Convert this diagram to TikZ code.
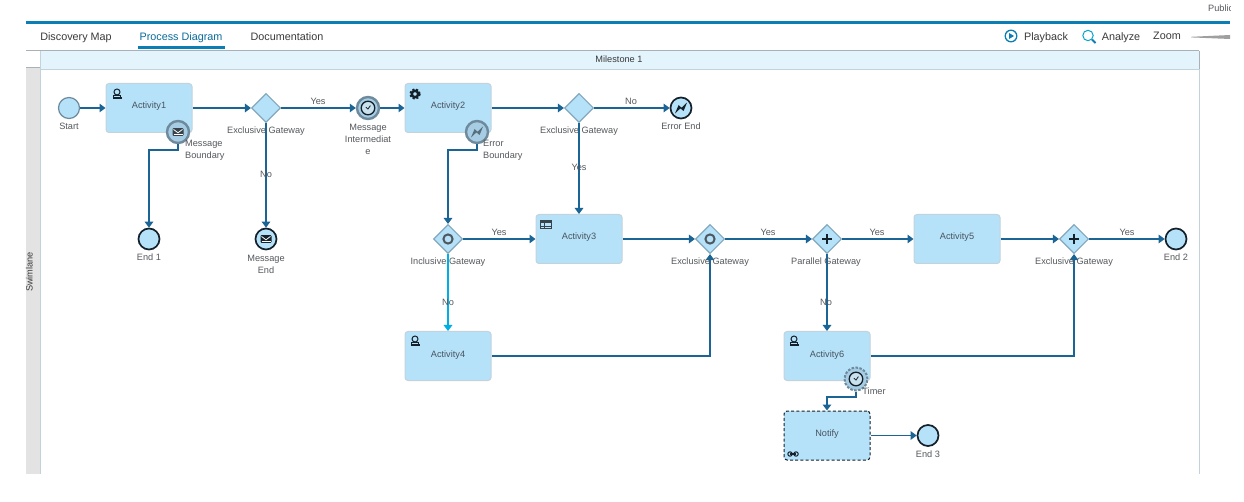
\documentclass[tikz,border=0pt]{standalone}
\usepackage{fontspec}
\setmainfont{Liberation Sans}
\usetikzlibrary{arrows.meta,shapes.geometric}
\definecolor{taskfill}{HTML}{B5E2F9}
\definecolor{taskedge}{HTML}{C3D3DC}
\definecolor{flow}{HTML}{1A6596}
\definecolor{cyanflow}{HTML}{00AEE6}
\definecolor{gwedge}{HTML}{83A7BC}
\definecolor{txt}{HTML}{55595D}
\definecolor{tasktxt}{HTML}{48545E}
\definecolor{tabtxt}{HTML}{3A3A3A}
\definecolor{brand}{HTML}{0B7FB5}
\definecolor{ring}{HTML}{6E8A9C}
\definecolor{ringfill}{HTML}{A6CDE3}
\definecolor{ink}{HTML}{14202A}
\definecolor{band}{HTML}{E3F4FC}
\definecolor{lane}{HTML}{E3E3E3}
\definecolor{rulegray}{HTML}{A9B1B6}
\newcommand{\lblfont}{\fontsize{9.2}{12}\selectfont}
\newcommand{\tabfont}{\fontsize{10.8}{13}\selectfont}
\tikzset{
  taskbox/.style={rectangle,rounded corners=3pt,draw=taskedge,line width=1pt,fill=taskfill,
    minimum width=86pt,minimum height=49pt,inner sep=0pt,text=tasktxt,font=\lblfont,
    text height=7pt,text depth=5pt},
  notifybox/.style={taskbox,draw=ink,dash pattern=on 3pt off 2.2pt,line width=1pt},
  gwbox/.style={diamond,aspect=1,draw=gwedge,line width=1.1pt,fill=taskfill,minimum width=29pt,minimum height=29pt,inner sep=0pt},
  evstart/.style={circle,draw=ring,line width=1.2pt,fill=taskfill,minimum size=21pt,inner sep=0pt},
  evend/.style={circle,draw=ink,line width=1.7pt,fill=taskfill,minimum size=21pt,inner sep=0pt},
  evinter/.style={circle,draw=ring,line width=2.4pt,fill=ringfill,minimum size=22pt,inner sep=0pt},
  evtimer/.style={circle,draw=ring,line width=2pt,dash pattern=on 2.5pt off 1.5pt,fill=ringfill,minimum size=23pt,inner sep=0pt},
  lbl/.style={text=txt,font=\lblfont,inner sep=0pt,text height=7pt,text depth=2pt},
  lblm/.style={text=txt,font=\lblfont,inner sep=0pt,align=center},
  lblleft/.style={text=txt,font=\lblfont,inner sep=0pt,align=left,anchor=west},
  tab/.style={text=tabtxt,font=\tabfont,inner sep=0pt,text height=8pt,text depth=2.5pt},
  seq/.style={draw=flow,line width=1.3pt,-{Triangle[length=6pt,width=8.5pt]}},
  seqthick/.style={seq,line width=1.9pt},
  seqcyan/.style={draw=cyanflow,line width=1.5pt,-{Triangle[length=6pt,width=8.5pt]}},
}
\newcommand{\usericon}[1]{\begin{scope}[shift={#1}]
  \draw[ink,line width=1pt] (0,-2) circle (3);
  \fill[ink] (-4.5,3) rectangle (4.5,5.2);
  \draw[ink,line width=.8pt] (-3.6,3) -- (-3.6,1.8) -- (3.6,1.8) -- (3.6,3);
\end{scope}}
\newcommand{\gearicon}[1]{\begin{scope}[shift={#1}]
  \draw[ink,line width=2.4pt] (0,0) circle (3.2);
  \draw[ink,line width=1.8pt,dash pattern=on 2.1pt off 1.85pt] (0,0) circle (4.9);
\end{scope}}
\newcommand{\tableicon}[1]{\begin{scope}[shift={#1}]
  \draw[ink!85,line width=1pt] (-5.3,-4) rectangle (5.3,4);
  \fill[ink!85] (-5.3,-4) rectangle (5.3,-1.6);
  \draw[ink!85,line width=.9pt] (-5.3,1.2) -- (5.3,1.2) (-1.6,-4) -- (-1.6,4);
\end{scope}}
\newcommand{\mailicon}[2]{\begin{scope}[shift={#1}]
  \fill[#2,rounded corners=1pt] (-5.5,-3.8) rectangle (5.5,3.8);
  \draw[white,line width=.8pt] (-4.5,-2.6) -- (0,.8) -- (4.5,-2.6);
  \draw[white,line width=.7pt] (-4.5,2.6) -- (4.5,2.6);
\end{scope}}
\newcommand{\clockicon}[1]{\begin{scope}[shift={#1}]
  \draw[ink,line width=1.3pt,fill=ringfill!60] (0,0) circle (6.8);
  \draw[ink,line width=.8pt] (-2.2,-.8) -- (0,1) -- (2.4,-2.4);
\end{scope}}
\newcommand{\bolticon}[2]{\begin{scope}[shift={#1}]
  \fill[#2] (-6,5.5) -- (-2.4,-3) -- (.6,-.2) -- (6,-5.5) -- (2.6,3) -- (-.6,.4) -- cycle;
\end{scope}}
\newcommand{\ringicon}[1]{\draw[ink!75,line width=2pt] #1 circle (4.6);}
\newcommand{\plusicon}[1]{\begin{scope}[shift={#1}]
  \draw[ink,line width=2pt] (-5,0) -- (5,0) (0,-5) -- (0,5);
\end{scope}}
\begin{document}
\begin{tikzpicture}[x=1pt,y=-1pt]
\useasboundingbox (0,0) rectangle (1244,502);
\fill[white] (0,0) rectangle (1244,502);
% header
\begin{scope}
  \clip (1190,0) rectangle (1230,12);
  \node[lbl,anchor=west] (pub) at (1208,9) {Public};
\end{scope}
\fill[brand] (26,21) rectangle (1230,24);
\node[tab] (t1) at (76,37.8) {Discovery Map};
\node[tab,text=brand!85!black] (t2) at (181,37.8) {Process Diagram};
\node[tab] (t3) at (287,37.8) {Documentation};
\fill[brand] (137.5,46) rectangle (224.5,49.5);
\draw[brand,line width=1.3pt] (1011,36) circle (5.8);
\fill[brand] (1009,33) -- (1014,36) -- (1009,39) -- cycle;
\node[tab] (pb) at (1046,37.8) {Playback};
\draw[brand!70!cyan,line width=1pt] (1088,35.5) circle (5.2);
\draw[brand,line width=2pt] (1092,39.5) -- (1095.5,43);
\node[tab] (an) at (1121,37.8) {Analyze};
\node[tab] (zm) at (1167,37) {Zoom};
\fill[gray!75] (1191,36.8) -- (1230,35) -- (1230,39) -- (1191,37.4) -- cycle;
% frame
\fill[band] (40,51) rectangle (1199,69);
\fill[lane] (26,68) rectangle (40,474);
\draw[rulegray,line width=1pt] (26,50.5) -- (1199,50.5);
\draw[rulegray,line width=1.5pt] (26,67.5) -- (40,67.5);
\draw[taskedge,line width=1pt] (40,69.5) -- (1199,69.5);
\draw[taskedge,line width=.8pt] (40,51) -- (40,474);
\draw[rulegray,line width=.8pt] (1199,51) -- (1199,69);
\draw[taskedge,line width=.8pt] (1199,69) -- (1199,474);
\node[lbl,text=tabtxt] (ms) at (619,60) {Milestone 1};
\node[lbl,rotate=90,text=tabtxt] (sl) at (30,272) {Swimlane};
% tasks
\node[taskbox] (a1) at (149,108) {Activity1};
\node[taskbox] (a2) at (448,108) {Activity2};
\node[taskbox] (a3) at (579,239) {Activity3};
\node[taskbox] (a4) at (448,356) {Activity4};
\node[taskbox] (a5) at (957,239) {Activity5};
\node[taskbox] (a6) at (827,356) {Activity6};
\node[notifybox] (nt) at (827,435.5) {Notify};
% gateways
\node[gwbox] (g1) at (266,108) {};
\node[gwbox] (g2) at (579,108) {};
\node[gwbox] (g3) at (448,239) {};
\node[gwbox] (g4) at (710,239) {};
\node[gwbox] (g5) at (827,239) {};
\node[gwbox] (g6) at (1074,239) {};
% events
\node[evstart] (st) at (69,108) {};
\node[evinter] (mi) at (368,108) {};
\node[evinter] (mb) at (178,132) {};
\node[evinter] (eb) at (477,132) {};
\node[evtimer] (tb) at (856,379) {};
\node[evend] (e1) at (149,239) {};
\node[evend] (me) at (266,239) {};
\node[evend] (ee) at (681,108) {};
\node[evend] (e2) at (1176,239) {};
\node[evend] (e3) at (928,435.5) {};
% connectors
\draw[seq] (st) -- (a1);
\draw[seq] (a1) -- (g1);
\draw[seq] (g1) -- (mi);
\draw[seq] (mi) -- (a2);
\draw[seq] (a2) -- (g2);
\draw[seq] (g2) -- (ee);
\draw[seq] (g1) -- (me);
\draw[seq] (g2) -- (g2 |- a3.north);
\draw[seqthick] (mb.south) -- ++(0,5.5) -| (e1.north);
\draw[seqthick] (eb.south) -- ++(0,5.5) -| (g3.north);
\draw[seq] (g3) -- (a3);
\draw[seqcyan] (g3) -- (g3 |- a4.north);
\draw[seq] (a3) -- (g4);
\draw[seq] (g4) -- (g5);
\draw[seq] (g5) -- (a5);
\draw[seq] (a5) -- (g6);
\draw[seq] (g6) -- (e2);
\draw[seq] (a4.east) -| (g4.south);
\draw[seq] (g5) -- (g5 |- a6.north);
\draw[seq] (a6.east) -| (g6.south);
\draw[seqthick] (tb.south) -- ++(0,5.5) -| (nt.north);
\draw[seq] (nt) -- (e3);
% icons
\usericon{(117,94)}
\gearicon{(415,94)}
\tableicon{(546,225)}
\usericon{(415,341)}
\usericon{(794,341)}
\begin{scope}[shift={(793,454)}]
  \draw[ink,line width=1pt] (-3,0) circle (2.2) (3,0) circle (2.2);
  \draw[ink,line width=1.2pt] (-3,0) -- (3,0);
\end{scope}
\mailicon{(mb.center)}{ink!85}
\clockicon{(mi.center)}
\clockicon{(tb.center)}
\bolticon{(eb.center)}{ring!80!black}
\bolticon{(ee.center)}{ink}
\mailicon{(me.center)}{ink}
\ringicon{(g3.center)}
\ringicon{(g4.center)}
\plusicon{(g5.center)}
\plusicon{(g6.center)}
% labels
\node[lbl] (l1) at (69,127.5) {Start};
\node[lbl] (l2) at (266,131.5) {Exclusive Gateway};
\node[lblleft] (l3) at (185,150) {Message\\Boundary};
\node[lbl] (l4) at (318,102.5) {Yes};
\node[lblm] (l5) at (368,139) {Message\\Intermediat\\e};
\node[lbl] (l6) at (266,175.5) {No};
\node[lbl] (l7) at (149,258.5) {End 1};
\node[lblm] (l8) at (266,264) {Message\\End};
\node[lbl] (l9) at (681,127.5) {Error End};
\node[lbl] (l10) at (579,131.5) {Exclusive Gateway};
\node[lbl] (l11) at (631,102.5) {No};
\node[lblleft] (l12) at (483,150) {Error\\Boundary};
\node[lbl] (l13) at (579,168) {Yes};
\node[lbl] (l14) at (448,262.5) {Inclusive Gateway};
\node[lbl] (l15) at (499,232.8) {Yes};
\node[lbl] (l16) at (448,303) {No};
\node[lbl] (l17) at (710,262.5) {Exclusive Gateway};
\node[lbl] (l18) at (768,232.8) {Yes};
\node[lbl] (l19) at (826,262.5) {Parallel Gateway};
\node[lbl] (l20) at (877,232.8) {Yes};
\node[lbl] (l21) at (826,303) {No};
\node[lbl] (l22) at (1074,262.5) {Exclusive Gateway};
\node[lbl] (l23) at (1127,232.8) {Yes};
\node[lbl] (l24) at (1176,258.5) {End 2};
\node[lbl] (l25) at (874,391.5) {Timer};
\node[lbl] (l26) at (928,454.8) {End 3};
\end{tikzpicture}
\end{document}
